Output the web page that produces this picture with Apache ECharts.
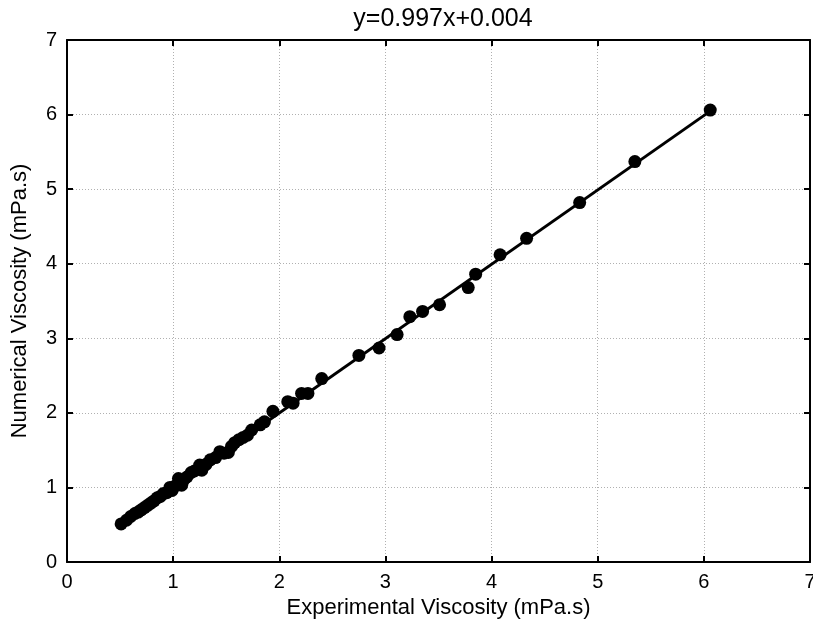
<!DOCTYPE html>
<html lang="en">

<head>
    <meta charset="UTF-8">
    <title>Viscosity</title>
    <script src="https://cdn.jsdelivr.net/npm/echarts@6/dist/echarts.min.js"></script>
</head>

<body style="margin:0">
    <div id="main" style="width: 813px;height:630px;"></div>
    <script type="text/javascript">

        // experimental (x) and numerical (y) viscosity, mPa.s
        let expVisc = [0.51, 0.56, 0.60, 0.64, 0.67, 0.70, 0.73, 0.76, 0.79, 0.82, 0.85, 0.88, 0.91, 0.94, 0.97, 0.99,
            1.02, 1.05, 1.08, 1.10, 1.13, 1.17, 1.20, 1.25, 1.27, 1.31, 1.35, 1.40, 1.44, 1.48, 1.52, 1.55, 1.58,
            1.62, 1.66, 1.70, 1.74, 1.82, 1.86, 1.94, 2.08, 2.13, 2.21, 2.27, 2.40, 2.75, 2.94, 3.11, 3.23, 3.35,
            3.51, 3.78, 3.85, 4.08, 4.33, 4.83, 5.35, 6.06];
        let numVisc = [0.51, 0.56, 0.61, 0.65, 0.67, 0.70, 0.73, 0.76, 0.79, 0.82, 0.86, 0.88, 0.92, 0.93, 1.00, 0.96,
            1.02, 1.12, 1.03, 1.10, 1.14, 1.20, 1.22, 1.30, 1.23, 1.31, 1.37, 1.40, 1.48, 1.46, 1.47, 1.55, 1.60,
            1.64, 1.67, 1.70, 1.77, 1.84, 1.88, 2.02, 2.15, 2.13, 2.26, 2.26, 2.46, 2.77, 2.87, 3.05, 3.29, 3.36,
            3.45, 3.68, 3.86, 4.12, 4.34, 4.82, 5.37, 6.06];
        // fitted line end points  y=0.997x+0.004
        let fitX = [0.51, 6.06];
        let fitY = [0.512, 6.046];
        let ticks = [0, 1, 2, 3, 4, 5, 6, 7];

        let points = expVisc.map((v, i) => [v, numVisc[i]]);
        let fit = fitX.map((v, i) => [v, fitY[i]]);

        let font = 'Liberation Sans, Arial, sans-serif';
        let gridLine = { show: true, lineStyle: { type: [1, 2], color: '#b0b0b0', width: 1 } };

        function axis(pos, name, show) {
            return {
                type: 'value',
                position: pos,
                min: ticks[0],
                max: ticks[ticks.length - 1],
                interval: 1,
                name: show ? name : '',
                nameLocation: 'middle',
                nameGap: pos == 'left' ? 36 : 34,
                nameTextStyle: { fontFamily: font, fontSize: 22, color: '#000' },
                axisLine: { show: true, onZero: false, lineStyle: { color: '#000', width: 2 } },
                axisTick: { show: true, inside: true, length: 6, lineStyle: { color: '#000', width: 2 } },
                axisLabel: { show: show, fontFamily: font, fontSize: 20, color: '#000', margin: 10 },
                splitLine: show ? gridLine : { show: false }
            };
        }

        var myChart = echarts.init(document.getElementById('main'));
        option = {
            backgroundColor: '#fff',
            animation: false,
            title: {
                text: 'y=0.997x+0.004',
                left: 438,
                textAlign: 'center',
                top: 2,
                textStyle: { fontFamily: font, fontSize: 25, fontWeight: 'normal', color: '#000' }
            },
            grid: { left: 67, right: 3, top: 40, bottom: 68, outerBoundsMode: 'none', containLabel: false },
            xAxis: [axis('bottom', 'Experimental Viscosity (mPa.s)', true), axis('top', '', false)],
            yAxis: [axis('left', 'Numerical Viscosity (mPa.s)', true), axis('right', '', false)],
            series: [
                {
                    type: 'line',
                    data: fit,
                    symbol: 'none',
                    lineStyle: { color: '#000', width: 3 },
                    z: 3
                },
                {
                    type: 'scatter',
                    data: points,
                    symbolSize: 13,
                    itemStyle: { color: '#000', opacity: 1 },
                    z: 4
                }
            ]
        };
        myChart.setOption(option);
    </script>
</body>

</html>
